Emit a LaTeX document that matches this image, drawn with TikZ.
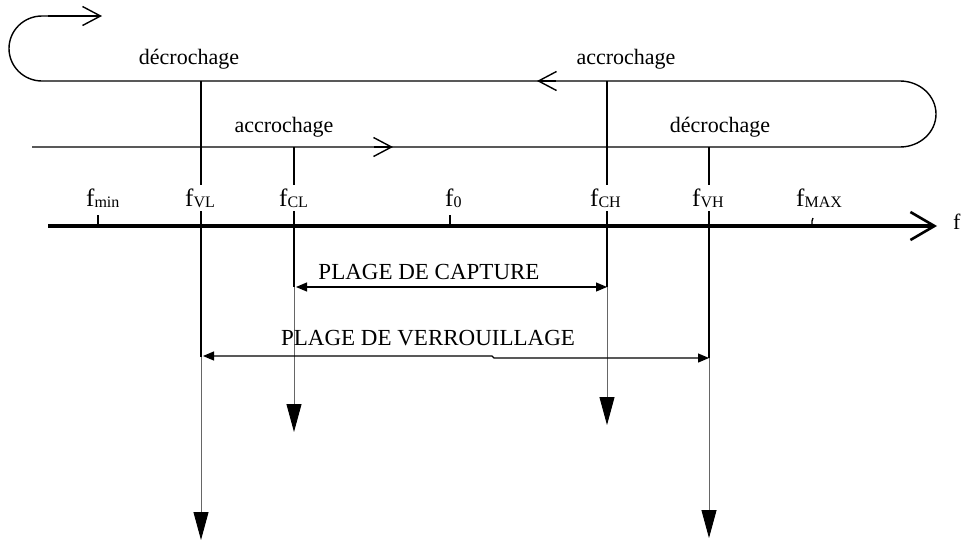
\documentclass[tikz,border=0pt]{standalone}
\usepackage{fontspec}
\setmainfont{Liberation Serif}
\usetikzlibrary{arrows.meta}

\tikzset{
  thin line/.style={line width=1.4pt, black},
  low line/.style={line width=0.9pt, black!60},
  barb/.style={-{Straight Barb[length=18pt,width=19pt,line width=1.4pt]}},
  downtip/.style={-{Triangle[length=28pt,width=15pt,black,fill=black]}},
  rangearrow/.style={line width=1.2pt, {Triangle[length=11pt,width=9pt]}-{Triangle[length=11pt,width=9pt]}},
  word/.style={inner sep=0pt, font=\fontsize{22}{24}\selectfont},
  rangetext/.style={inner sep=0pt, font=\fontsize{23}{25}\selectfont},
  freq/.style={inner sep=3pt, fill=white, anchor=base west, font=\fontsize{25}{27}\selectfont},
}
\newcommand{\sbs}[1]{\raisebox{-1.5pt}{\fontsize{16}{16}\selectfont #1}}

\begin{document}
\begin{tikzpicture}[x=1pt,y=-1pt]
\useasboundingbox (0,0) rectangle (963,541);

% frequency positions on the axis
\coordinate (xmin) at (98,226);
\coordinate (xVL) at (201,226);
\coordinate (xCL) at (294,226);
\coordinate (x0)  at (450,226);
\coordinate (xCH) at (607,226);
\coordinate (xVH) at (709,226);
\coordinate (xMAX) at (812,226);
\coordinate (axL) at (48,226);
\coordinate (axR) at (937,226);

% hysteresis loop path
\coordinate (bStart) at (32,147);
\coordinate (bEnd)   at (900,147);
\coordinate (tLeft)  at (42,81);
\coordinate (topEnd) at (102,16);

\draw[thin line] (bStart) -- (bEnd)
  arc[start angle=90, end angle=-90, x radius=36, y radius=33]
  -- (tLeft)
  arc[start angle=90, end angle=270, x radius=33, y radius=32.5]
  -- (48,16) coordinate (topStart);
\draw[thin line, barb] (topStart) -- (topEnd);

% direction marks on the loop
\coordinate (bArrA) at (374,147);
\coordinate (bArrB) at (393,147);
\coordinate (tArrA) at (556,81);
\coordinate (tArrB) at (537,81);
\draw[thin line, barb] (bArrA) -- (bArrB);
\draw[thin line, barb] (tArrA) -- (tArrB);

% loop labels
\node[word] (dec1) at (189,59) {décrochage};
\node[word] (acc1) at (626,59) {accrochage};
\node[word] (acc2) at (284,127) {accrochage};
\node[word] (dec2) at (720,127) {décrochage};

% vertical jump lines
\coordinate (vlTop) at (201,81);
\coordinate (vlMid) at (201,357);
\coordinate (vlEnd) at (201,540);
\coordinate (clTop) at (294,147);
\coordinate (clMid) at (294,287);
\coordinate (clEnd) at (294,432);
\coordinate (chTop) at (607,81);
\coordinate (chMid) at (607,287);
\coordinate (chEnd) at (607,425);
\coordinate (vhTop) at (709,147);
\coordinate (vhMid) at (709,358);
\coordinate (vhEnd) at (709,538);

\draw[thin line] (vlTop) -- (vlMid);
\draw[thin line] (clTop) -- (clMid);
\draw[thin line] (chTop) -- (chMid);
\draw[thin line] (vhTop) -- (vhMid);
\draw[low line, downtip] (vlMid) -- (vlEnd);
\draw[low line, downtip] (clMid) -- (clEnd);
\draw[low line, downtip] (chMid) -- (chEnd);
\draw[low line, downtip] (vhMid) -- (vhEnd);

% frequency axis
\draw[line width=3.8pt, -{Straight Barb[length=24pt,width=28pt,line width=2.6pt]}] (axL) -- (axR);
\node[inner sep=0pt, anchor=base west, font=\fontsize{22}{24}\selectfont] (fax) at (953,229) {f};

% ticks
\draw[line width=1.3pt] (xmin) -- ++(0,-11);
\draw[line width=1.3pt] (x0) -- ++(0,-11);
\draw[line width=1.3pt] (xMAX) -- ++(0,-5) -- ++(1,-3);

% frequency labels
\node[freq] (lmin) at (83,206) {f\sbs{min}};
\node[freq] (lVL)  at (182,206) {f\sbs{VL}};
\node[freq] (lCL)  at (276,206) {f\sbs{CL}};
\node[freq] (l0)   at (442,206) {f\sbs{0}};
\node[freq] (lCH)  at (587,206) {f\sbs{CH}};
\node[freq] (lVH)  at (689,206) {f\sbs{VH}};
\node[freq] (lMAX) at (793,206) {f\sbs{MAX}};

% capture and lock ranges
\coordinate (capL) at (296,287);
\coordinate (capR) at (607,287);
\draw[rangearrow] (capL) -- (capR);
\node[rangetext] (cap) at (429,272) {PLAGE DE CAPTURE};

\coordinate (verL) at (203,356);
\coordinate (verR) at (709,358);
\draw[rangearrow] (verL) -- (492,356) -- (494,358) -- (verR);
\node[rangetext] (ver) at (428,338) {PLAGE DE VERROUILLAGE};
\end{tikzpicture}
\end{document}
